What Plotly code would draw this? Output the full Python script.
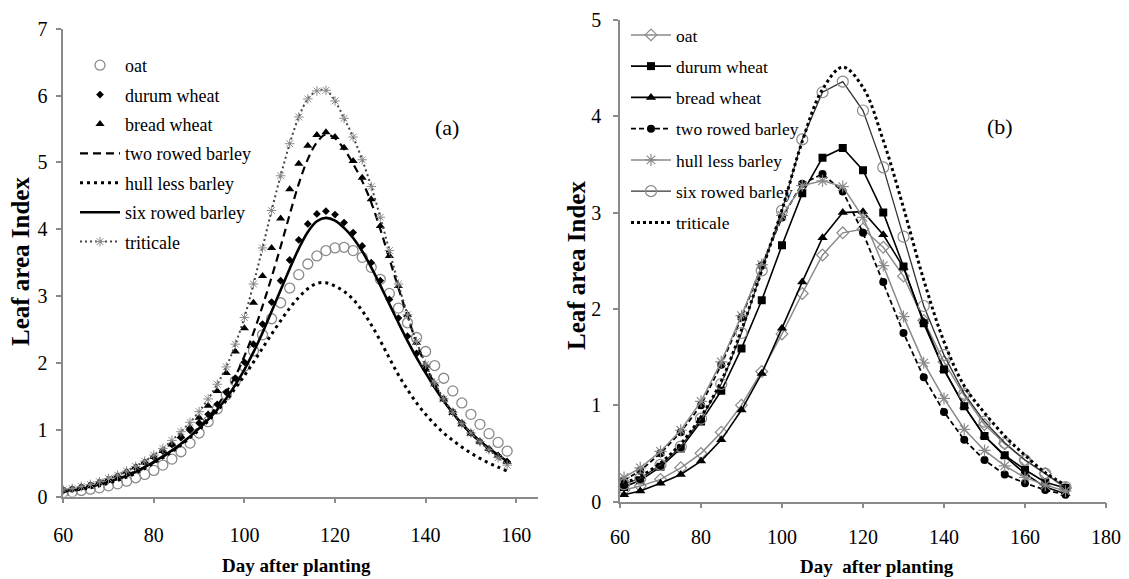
import plotly.graph_objects as go

FONT = "Liberation Serif"

# ---------------- Panel (a) data: day after planting ----------------
days_a = list(range(60, 159, 2))

oat_a = [0.06, 0.07, 0.09, 0.11, 0.13, 0.16, 0.19, 0.23, 0.28, 0.33,
         0.39, 0.47, 0.56, 0.67, 0.80, 0.95, 1.12, 1.31, 1.52, 1.73,
         1.95, 2.18, 2.42, 2.66, 2.90, 3.12, 3.32, 3.48, 3.60, 3.68,
         3.72, 3.73, 3.68, 3.58, 3.43, 3.25, 3.04, 2.82, 2.60, 2.38,
         2.17, 1.96, 1.77, 1.58, 1.40, 1.23, 1.08, 0.94, 0.81, 0.68]
durum_a = [0.09, 0.11, 0.14, 0.17, 0.21, 0.25, 0.30, 0.36, 0.43, 0.51,
           0.59, 0.68, 0.78, 0.88, 0.99, 1.10, 1.23, 1.38, 1.56, 1.77,
           2.01, 2.28, 2.58, 2.91, 3.23, 3.54, 3.84, 4.08, 4.23, 4.27,
           4.22, 4.10, 3.95, 3.75, 3.50, 3.23, 2.95, 2.67, 2.40, 2.14,
           1.90, 1.67, 1.46, 1.27, 1.10, 0.95, 0.82, 0.71, 0.61, 0.52]
bread_a = [0.09, 0.11, 0.14, 0.17, 0.21, 0.26, 0.31, 0.37, 0.44, 0.51,
           0.59, 0.68, 0.78, 0.90, 1.03, 1.18, 1.36, 1.58, 1.85, 2.17,
           2.52, 2.90, 3.30, 3.72, 4.16, 4.60, 4.98, 5.25, 5.41, 5.45,
           5.38, 5.22, 5.02, 4.77, 4.45, 4.05, 3.60, 3.15, 2.72, 2.30,
           1.96, 1.68, 1.45, 1.25, 1.08, 0.94, 0.82, 0.71, 0.61, 0.52]
two_a = [0.08, 0.10, 0.12, 0.15, 0.18, 0.22, 0.27, 0.32, 0.38, 0.44,
         0.51, 0.59, 0.68, 0.78, 0.90, 1.03, 1.18, 1.36, 1.56, 1.80,
         2.10, 2.45, 2.85, 3.28, 3.74, 4.22, 4.68, 5.05, 5.30, 5.42,
         5.36, 5.20, 4.98, 4.72, 4.40, 4.00, 3.56, 3.12, 2.70, 2.30,
         1.96, 1.68, 1.45, 1.25, 1.08, 0.94, 0.82, 0.71, 0.61, 0.52]
hull_a = [0.07, 0.09, 0.11, 0.13, 0.16, 0.20, 0.24, 0.29, 0.35, 0.42,
          0.50, 0.58, 0.67, 0.77, 0.88, 1.00, 1.13, 1.28, 1.44, 1.62,
          1.81, 2.01, 2.22, 2.43, 2.63, 2.82, 2.98, 3.11, 3.19, 3.20,
          3.15, 3.07, 2.95, 2.78, 2.57, 2.33, 2.07, 1.82, 1.60, 1.40,
          1.23, 1.08, 0.95, 0.84, 0.74, 0.65, 0.57, 0.50, 0.44, 0.38]
six_a = [0.08, 0.10, 0.12, 0.15, 0.18, 0.22, 0.26, 0.31, 0.37, 0.44,
         0.52, 0.60, 0.69, 0.79, 0.90, 1.02, 1.15, 1.30, 1.47, 1.67,
         1.90, 2.16, 2.45, 2.77, 3.09, 3.41, 3.71, 3.96, 4.12, 4.17,
         4.13, 4.02, 3.87, 3.67, 3.43, 3.16, 2.88, 2.60, 2.33, 2.08,
         1.85, 1.63, 1.43, 1.25, 1.09, 0.95, 0.83, 0.72, 0.62, 0.53]
trit_a = [0.10, 0.12, 0.15, 0.18, 0.22, 0.27, 0.32, 0.38, 0.45, 0.53,
          0.62, 0.72, 0.84, 0.97, 1.11, 1.27, 1.46, 1.68, 1.94, 2.28,
          2.68, 3.18, 3.72, 4.28, 4.80, 5.28, 5.68, 5.95, 6.07, 6.08,
          5.92, 5.66, 5.38, 5.04, 4.64, 4.18, 3.68, 3.18, 2.72, 2.32,
          1.98, 1.70, 1.46, 1.26, 1.09, 0.95, 0.82, 0.70, 0.58, 0.47]

# ---------------- Panel (b) data ----------------
days_b = [61, 65, 70, 75, 80, 85, 90, 95, 100, 105, 110, 115,
          120, 125, 130, 135, 140, 145, 150, 155, 160, 165, 170]
oat_b = [0.12, 0.16, 0.23, 0.35, 0.50, 0.72, 1.00, 1.35, 1.74, 2.16, 2.56, 2.79,
         2.83, 2.64, 2.34, 1.88, 1.45, 1.10, 0.80, 0.60, 0.43, 0.29, 0.14]
durum_b = [0.15, 0.22, 0.36, 0.55, 0.83, 1.15, 1.59, 2.09, 2.66, 3.20, 3.57, 3.67,
           3.44, 3.00, 2.44, 1.85, 1.37, 0.99, 0.68, 0.48, 0.33, 0.20, 0.14]
bread_b = [0.07, 0.11, 0.19, 0.28, 0.42, 0.64, 0.95, 1.33, 1.80, 2.28, 2.74, 3.00,
           3.01, 2.77, 2.43, 1.87, 1.37, 0.99, 0.68, 0.47, 0.29, 0.15, 0.08]
two_b = [0.22, 0.32, 0.50, 0.72, 1.00, 1.42, 1.91, 2.45, 2.95, 3.30, 3.40, 3.22,
         2.79, 2.28, 1.75, 1.29, 0.93, 0.64, 0.43, 0.28, 0.19, 0.12, 0.07]
hull_b = [0.25, 0.35, 0.52, 0.74, 1.04, 1.45, 1.93, 2.46, 2.97, 3.28, 3.33, 3.27,
          2.95, 2.45, 1.92, 1.44, 1.07, 0.75, 0.53, 0.37, 0.25, 0.17, 0.11]
six_b = [0.18, 0.24, 0.38, 0.57, 0.86, 1.22, 1.75, 2.40, 3.02, 3.76, 4.25, 4.36,
         4.06, 3.47, 2.75, 2.03, 1.52, 1.12, 0.83, 0.61, 0.43, 0.29, 0.15]
trit_b = [0.19, 0.26, 0.40, 0.60, 0.88, 1.25, 1.78, 2.40, 3.03, 3.74, 4.28, 4.51,
          4.30, 3.75, 3.05, 2.30, 1.66, 1.20, 0.92, 0.68, 0.48, 0.30, 0.17]

names = ["oat", "durum wheat", "bread wheat", "two rowed barley",
         "hull less barley", "six rowed barley", "triticale"]

W, H = 1129, 579
OFF = 8  # the page body margin shifts the figure by this many pixels
GRAY = "#8a8a8a"


def px(x):
    return (x - OFF) / W


def py(y):
    return 1 - (y - OFF) / H


fig = go.Figure()

# ---- panel (a) traces ----
a_series = [oat_a, durum_a, bread_a, two_a, hull_a, six_a, trit_a]
a_styles = [
    dict(mode="markers", marker=dict(symbol="circle-open", size=10, color=GRAY, line=dict(width=1.3, color=GRAY))),
    dict(mode="markers", marker=dict(symbol="diamond", size=6, color="black")),
    dict(mode="markers", marker=dict(symbol="triangle-up", size=8, color="black")),
    dict(mode="lines", line=dict(color="black", width=2.2, dash="8px,5px", shape="spline")),
    dict(mode="lines", line=dict(color="black", width=3, dash="3px,4px", shape="spline")),
    dict(mode="lines", line=dict(color="black", width=2.6, shape="spline")),
    dict(mode="lines+markers", line=dict(color="#444", width=2, dash="2px,3px", shape="spline"),
         marker=dict(symbol="asterisk-open", size=8, color=GRAY, line=dict(width=1, color=GRAY))),
]
for i, (nm, ys, st) in enumerate(zip(names, a_series, a_styles)):
    fig.add_trace(go.Scatter(x=days_a, y=ys, name=nm, xaxis="x", yaxis="y",
                             legend="legend", legendgroup="a%d" % i, **st))

# ---- panel (b) traces ----
b_series = [oat_b, durum_b, bread_b, two_b, hull_b, six_b, trit_b]
b_styles = [
    dict(mode="lines+markers", line=dict(color=GRAY, width=1.5),
         marker=dict(symbol="diamond-open", size=9, color=GRAY, line=dict(width=1.2, color=GRAY))),
    dict(mode="lines+markers", line=dict(color="black", width=1.6),
         marker=dict(symbol="square", size=8, color="black")),
    dict(mode="lines+markers", line=dict(color="black", width=1.6),
         marker=dict(symbol="triangle-up", size=9, color="black")),
    dict(mode="lines+markers", line=dict(color="black", width=1.8, dash="5px,3px"),
         marker=dict(symbol="circle", size=8, color="black")),
    dict(mode="lines+markers", line=dict(color=GRAY, width=1.5),
         marker=dict(symbol="asterisk-open", size=10, color=GRAY, line=dict(width=1.2, color=GRAY))),
    dict(mode="lines+markers", line=dict(color="#333", width=1.3),
         marker=dict(symbol="circle-open", size=11, color=GRAY, line=dict(width=1.2, color=GRAY))),
    dict(mode="lines", line=dict(color="black", width=3, dash="3px,3px", shape="spline")),
]
for i, (nm, ys, st) in enumerate(zip(names, b_series, b_styles)):
    fig.add_trace(go.Scatter(x=days_b, y=ys, name=nm, xaxis="x2", yaxis="y2",
                             legend="legend2", legendgroup="b%d" % i, **st))

axis_common = dict(showline=True, linecolor=GRAY, linewidth=1.5, ticks="outside",
                   tickcolor=GRAY, ticklen=5, tickwidth=1.5, showgrid=False, zeroline=False,
                   automargin=False,
                   tickfont=dict(family=FONT, size=20, color="black"))

fig.update_layout(
    template="none",
    width=W, height=H,
    margin=dict(l=0, r=0, t=0, b=0, pad=0),
    paper_bgcolor="white", plot_bgcolor="white",
    xaxis=dict(domain=[px(63.2), px(537.5)], range=[60, 164.7], tickvals=[60, 80, 100, 120, 140, 160],
               anchor="y", ticklabelstandoff=15, **axis_common),
    yaxis=dict(domain=[py(496.5), py(28.8)], range=[0, 7], tickvals=list(range(0, 8)),
               anchor="x", ticklabelstandoff=5, **axis_common),
    xaxis2=dict(domain=[px(620), px(1106)], range=[60, 180], tickvals=[60, 80, 100, 120, 140, 160, 180],
                anchor="y2", ticklabelstandoff=12, **axis_common),
    yaxis2=dict(domain=[py(501.5), py(20)], range=[0, 5], tickvals=list(range(0, 6)),
                anchor="x2", ticklabelstandoff=8, **axis_common),
    legend=dict(x=px(75), y=py(47), xanchor="left", yanchor="top",
                font=dict(family=FONT, size=18, color="black"), bgcolor="rgba(0,0,0,0)",
                itemwidth=40, tracegroupgap=3),
    legend2=dict(x=px(626), y=py(17), xanchor="left", yanchor="top",
                 font=dict(family=FONT, size=17.5, color="black"), bgcolor="rgba(0,0,0,0)",
                 itemwidth=40, tracegroupgap=5.5),
    showlegend=True,
)

title_font = dict(family=FONT, size=25, color="black")
fig.add_annotation(x=144.7, y=5.52, xref="x", yref="y", text="(a)", showarrow=False,
                   xanchor="center", yanchor="middle", font=dict(family=FONT, size=22, color="black"))
fig.add_annotation(x=153.8, y=3.89, xref="x2", yref="y2", text="(b)", showarrow=False,
                   xanchor="center", yanchor="middle", font=dict(family=FONT, size=22, color="black"))
fig.add_annotation(x=px(21), y=py(262), xref="paper", yref="paper", text="<b>Leaf area Index</b>",
                   textangle=-90, showarrow=False, xanchor="center", yanchor="middle", font=title_font)
fig.add_annotation(x=px(576), y=py(266), xref="paper", yref="paper", text="<b>Leaf area Index</b>",
                   textangle=-90, showarrow=False, xanchor="center", yanchor="middle", font=title_font)
fig.add_annotation(x=px(296), y=py(565), xref="paper", yref="paper", text="<b>Day after planting</b>",
                   showarrow=False, xanchor="center", yanchor="middle",
                   font=dict(family=FONT, size=19, color="black"))
fig.add_annotation(x=px(877), y=py(566), xref="paper", yref="paper", text="<b>Day  after planting</b>",
                   showarrow=False, xanchor="center", yanchor="middle",
                   font=dict(family=FONT, size=19, color="black"))

fig.write_html("out.html")
